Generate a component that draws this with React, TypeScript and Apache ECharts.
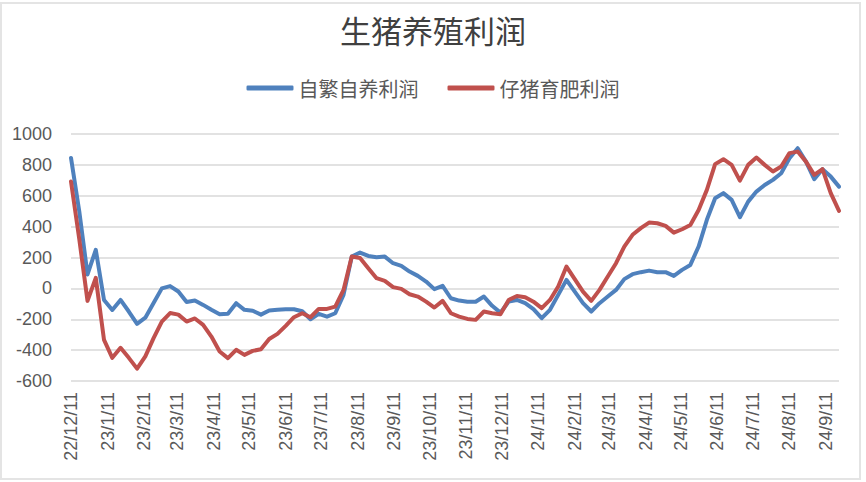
import React, { useEffect, useRef } from "react";
import * as echarts from "echarts";

const START_DATE = "2022-12-11";
const STEP_DAYS = 7;
const SERIES_NAMES = ["自繁自养利润", "仔猪育肥利润"];
const Y_TICKS = [-600, -400, -200, 0, 200, 400, 600, 800, 1000];

const selfBred = [
  845, 500, 90, 250, -75, -140, -75, -150, -230, -190,
  -95, 0, 15, -20, -88, -78, -107, -139, -168, -165,
  -96, -139, -145, -170, -143, -139, -135, -135, -148, -200,
  -165, -183, -161, -42, 206, 232, 210, 202, 206, 163,
  146, 109, 81, 44, -5, 16, -64, -79, -87, -87,
  -53, -113, -157, -86, -75, -96, -135, -193, -139, -42,
  55, -21, -96, -150, -96, -53, -10, 60, 92, 105,
  115, 105, 105, 81, 120, 152, 271, 444, 584, 617,
  573, 461, 562, 627, 670, 703, 746, 843, 908, 821,
  707, 772, 724, 659,
];

const pigletFatten = [
  692, 320, -81, 68, -334, -450, -385, -450, -520, -440,
  -322, -215, -160, -170, -215, -195, -236, -312, -409, -452,
  -398, -431, -405, -394, -328, -295, -243, -187, -161, -187,
  -133, -133, -118, -10, 206, 197, 131, 66, 49, 8,
  -3, -38, -53, -86, -124, -81, -161, -183, -198, -204,
  -150, -161, -167, -75, -49, -57, -86, -128, -75, 12,
  141, 60, -21, -81, -10, 77, 163, 271, 347, 390,
  426, 422, 405, 361, 383, 411, 508, 638, 805, 837,
  800, 698, 800, 847, 800, 757, 789, 876, 886, 821,
  735, 772, 617, 502,
];

function buildDays(): { labels: string[]; days: number[] } {
  const n = (selfBred.length - 1) * STEP_DAYS + 1;
  const start = new Date(START_DATE + "T00:00:00Z");
  const labels: string[] = [];
  const days: number[] = [];
  for (let i = 0; i < n; i++) {
    const d = new Date(start.getTime() + i * 86400000);
    const yy = String(d.getUTCFullYear() % 100);
    labels.push(`${yy}/${d.getUTCMonth() + 1}/${d.getUTCDate()}`);
    days.push(d.getUTCDate());
  }
  return { labels, days };
}

export default function App() {
  const ref = useRef<HTMLDivElement>(null);

  useEffect(() => {
    if (!ref.current) return;
    document.body.style.margin = "0";
    const chart = echarts.init(ref.current, null, { renderer: "svg" });
    const { labels, days } = buildDays();
    const font = "'Liberation Sans', Arial, sans-serif";
    const cjk = "'Noto Sans CJK SC', sans-serif";

    chart.setOption({
      animation: false,
      backgroundColor: "#ffffff",
      title: {
        text: "生猪养殖利润",
        left: "center",
        top: 9,
        textStyle: {
          fontFamily: cjk,
          fontSize: 31,
          fontWeight: "normal",
          color: "#404040",
        },
      },
      legend: {
        top: 73,
        left: "center",
        itemWidth: 47,
        itemHeight: 5,
        itemGap: 29,
        icon: "roundRect",
        textStyle: { fontFamily: cjk, fontSize: 20, color: "#595959" },
        data: SERIES_NAMES,
      },
      grid: { left: 71, right: 27, top: 134, bottom: 101, containLabel: false },
      xAxis: {
        type: "category",
        boundaryGap: false,
        data: labels,
        axisLine: { show: false },
        axisTick: { show: false },
        axisLabel: {
          rotate: 90,
          margin: 11,
          fontFamily: font,
          fontSize: 18,
          color: "#595959",
          hideOverlap: false,
          interval: (idx: number) => days[idx] === 11,
        },
        splitLine: { show: false },
      },
      yAxis: {
        type: "value",
        min: Y_TICKS[0],
        max: Y_TICKS[Y_TICKS.length - 1],
        interval: 200,
        axisLine: { show: false },
        axisTick: { show: false },
        axisLabel: {
          margin: 19,
          fontFamily: font,
          fontSize: 18,
          color: "#595959",
          formatter: (v: number) => String(v),
        },
        splitLine: { lineStyle: { color: "#d9d9d9", width: 1.5 } },
      },
      series: [
        {
          name: SERIES_NAMES[0],
          type: "line",
          data: selfBred.map((v, i) => [i * STEP_DAYS, v]),
          showSymbol: false,
          symbol: "none",
          lineStyle: { color: "#4f81bd", width: 4, join: "round", cap: "round" },
          itemStyle: { color: "#4f81bd" },
        },
        {
          name: SERIES_NAMES[1],
          type: "line",
          data: pigletFatten.map((v, i) => [i * STEP_DAYS, v]),
          showSymbol: false,
          symbol: "none",
          lineStyle: { color: "#c0504d", width: 4, join: "round", cap: "round" },
          itemStyle: { color: "#c0504d" },
        },
      ],
    });

    return () => chart.dispose();
  }, []);

  return (
    <div style={{ position: "fixed", left: 0, top: 0, width: 866, height: 482, background: "#fff" }}>
      <div ref={ref} style={{ position: "absolute", left: 0, top: 0, width: 866, height: 482 }} />
      <div
        style={{
          position: "absolute",
          left: 0,
          top: 2,
          width: 861,
          height: 478,
          boxSizing: "border-box",
          border: "2px solid #e4e4e4",
          pointerEvents: "none",
        }}
      />
    </div>
  );
}
